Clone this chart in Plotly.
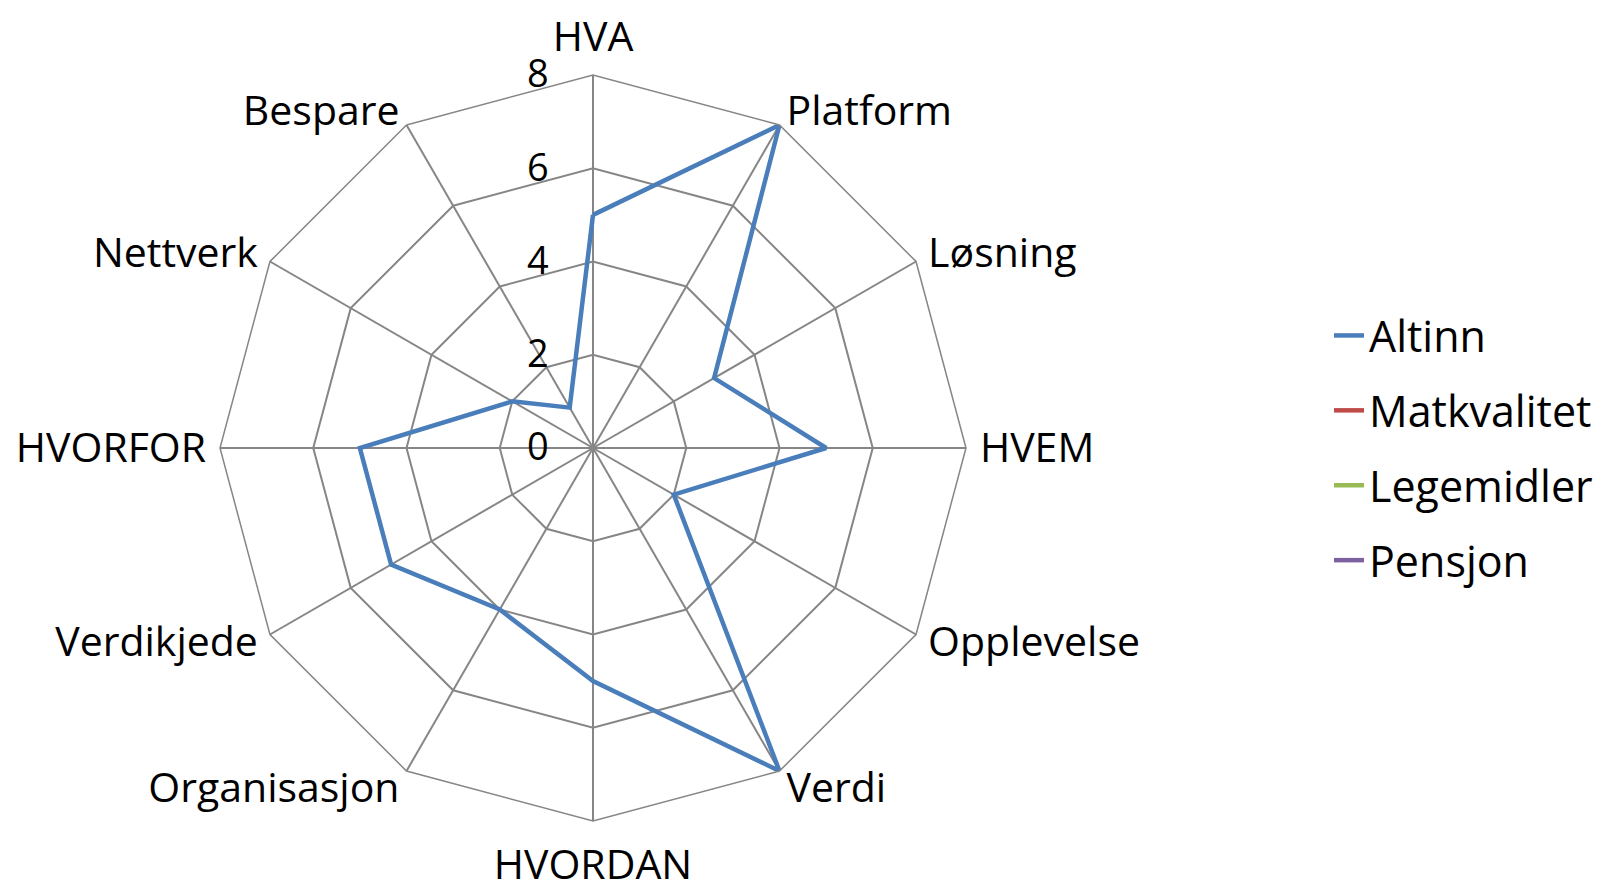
import plotly.graph_objects as go

categories = ["HVA", "Platform", "Løsning", "HVEM", "Opplevelse", "Verdi",
              "HVORDAN", "Organisasjon", "Verdikjede", "HVORFOR", "Nettverk", "Bespare"]
altinn = [5, 8, 3, 5, 2, 8, 5, 4, 5, 5, 2, 1]
matkvalitet = [None] * 12
legemidler = [None] * 12
pensjon = [None] * 12
radial_ticks = [0, 2, 4, 6, 8]

series = [
    ("Altinn", altinn, "#4A7EBB"),
    ("Matkvalitet", matkvalitet, "#BE4B48"),
    ("Legemidler", legemidler, "#98B954"),
    ("Pensjon", pensjon, "#7D60A0"),
]

FONT = "'Open Sans', Lato, sans-serif"
LABEL_SIZE = 41

# vertical nudges (px, positive = up) of angular labels -- styling only
label_shift = {
    "HVA": 2, "Platform": -12, "Bespare": -12, "Løsning": -4, "Nettverk": -4,
    "Opplevelse": 18, "Verdikjede": 18, "Verdi": 24, "Organisasjon": 24,
    "HVORDAN": -3,
}


def label_markup(name):
    s = label_shift.get(name, 0)
    if s == 0:
        return name
    return f"<span style='baseline-shift:{s}px'>{name}</span>"


fig = go.Figure()
for i, (name, vals, col) in enumerate(series):
    r = list(vals) + [vals[0]]
    th = categories + [categories[0]]
    fig.add_trace(go.Scatterpolar(
        r=r, theta=th, mode="lines", name=name,
        line=dict(color=col, width=4.5),
        legendgroup=f"g{i}", connectgaps=False,
    ))

W, H = 1603, 888
cx, cy, R = 585, 440, 373
fig.update_layout(
    width=W, height=H,
    margin=dict(l=0, r=0, t=0, b=0),
    paper_bgcolor="white",
    font=dict(family=FONT, color="black"),
    polar=dict(
        domain=dict(x=[(cx - R) / W, (cx + R) / W], y=[(H - cy - R) / H, (H - cy + R) / H]),
        bgcolor="white",
        gridshape="linear",
        angularaxis=dict(
            direction="clockwise", rotation=90,
            categoryorder="array", categoryarray=categories,
            tickmode="array", tickvals=categories,
            ticktext=[label_markup(c) for c in categories],
            showline=True, linecolor="#868686", linewidth=1.5,
            gridcolor="#868686", gridwidth=1.5,
            ticks="outside", ticklen=5, tickcolor="rgba(0,0,0,0)",
            tickfont=dict(size=LABEL_SIZE, family=FONT, color="black"),
        ),
        radialaxis=dict(
            range=[0, 8], tickmode="array", tickvals=radial_ticks,
            ticktext=[f"{v}\u2003" for v in radial_ticks],
            angle=90, tickangle=90, side="counterclockwise",
            showline=False, gridcolor="#868686", gridwidth=1.5,
            ticks="", tickfont=dict(size=38, family=FONT, color="black"),
        ),
    ),
    showlegend=True,
    legend=dict(
        x=1321 / W, y=1 - 293 / H, xanchor="left", yanchor="top",
        font=dict(size=43, family=FONT, color="black"),
        traceorder="grouped", tracegroupgap=16,
        bgcolor="rgba(0,0,0,0)",
    ),
)

fig.write_html("out.html")
